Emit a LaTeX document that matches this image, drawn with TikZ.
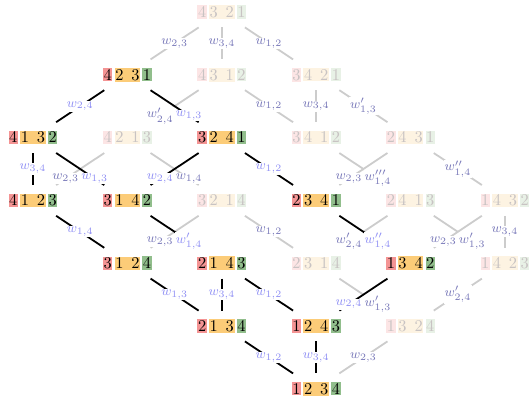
\documentclass[tikz,border=0pt]{standalone}

% cell colours of the permutation nodes
\definecolor{hlred}{RGB}{244,148,148}
\definecolor{hlorange}{RGB}{252,204,120}
\definecolor{hlgreen}{RGB}{145,190,140}
\definecolor{fdred}{RGB}{252,229,229}
\definecolor{fdorange}{RGB}{253,243,226}
\definecolor{fdgreen}{RGB}{232,241,230}
\definecolor{fdtext}{RGB}{200,195,195}
% connectors and their labels
\definecolor{edgegray}{RGB}{204,204,204}
\definecolor{hllabel}{RGB}{145,145,245}
\definecolor{fdlabel}{RGB}{120,120,185}

% one coloured cell
\newcommand\cell[2]{{\setlength\fboxsep{0.7pt}\colorbox{#1}{\kern-0.35pt#2\kern-0.35pt}}}
% a permutation a|b c|d with the three cell colours
\newcommand\permrow[7]{\cell{#1}{#4}\kern1.4pt\cell{#2}{#5\kern4.8pt#6}\kern1.4pt\cell{#3}{#7}}
\newcommand\hp[4]{\permrow{hlred}{hlorange}{hlgreen}{#1}{#2}{#3}{#4}}
\newcommand\fp[4]{\permrow{fdred}{fdorange}{fdgreen}{#1}{#2}{#3}{#4}}

\begin{document}
\begin{tikzpicture}[x=0.61pt,y=-0.61pt,
  permnode/.style={inner sep=0pt,outer sep=5.2pt},
  hlnode/.style={permnode,text=black},
  fdnode/.style={permnode,text=fdtext},
  gedge/.style={draw=edgegray,line width=1.1pt},
  bedge/.style={draw=black,line width=1.1pt},
  elabel/.style={font=\footnotesize,fill=white,inner sep=0.6pt},
  hlbl/.style={elabel,text=hllabel},
  flbl/.style={elabel,text=fdlabel},
  cross/.style={pos=0.8}]
\useasboundingbox (0,0) rectangle (530,401);

% rows of the lattice
\node[fdnode] (p4321) at (221.8,12)    {\fp4321};

\node[hlnode] (p4231) at (127.4,74.8)  {\hp4231};
\node[fdnode] (p4312) at (221.8,74.8)  {\fp4312};
\node[fdnode] (p3421) at (316.2,74.8)  {\fp3421};

\node[hlnode] (p4132) at (33,137.6)    {\hp4132};
\node[fdnode] (p4213) at (127.4,137.6) {\fp4213};
\node[hlnode] (p3241) at (221.8,137.6) {\hp3241};
\node[fdnode] (p3412) at (316.2,137.6) {\fp3412};
\node[fdnode] (p2431) at (410.6,137.6) {\fp2431};

\node[hlnode] (p4123) at (33,200.4)    {\hp4123};
\node[hlnode] (p3142) at (127.4,200.4) {\hp3142};
\node[fdnode] (p3214) at (221.8,200.4) {\fp3214};
\node[hlnode] (p2341) at (316.2,200.4) {\hp2341};
\node[fdnode] (p2413) at (410.6,200.4) {\fp2413};
\node[fdnode] (p1432) at (505,200.4)   {\fp1432};

\node[hlnode] (p3124) at (127.4,263.2) {\hp3124};
\node[hlnode] (p2143) at (221.8,263.2) {\hp2143};
\node[fdnode] (p2314) at (316.2,263.2) {\fp2314};
\node[hlnode] (p1342) at (410.6,263.2) {\hp1342};
\node[fdnode] (p1423) at (505,263.2)   {\fp1423};

\node[hlnode] (p2134) at (221.8,326)   {\hp2134};
\node[hlnode] (p1243) at (316.2,326)   {\hp1243};
\node[fdnode] (p1324) at (410.6,326)   {\fp1324};

\node[hlnode] (p1234) at (316.2,388.8) {\hp1234};

% faded transpositions
\draw[gedge] (p4321) -- node[flbl]{$w_{2,3}$} (p4231);
\draw[gedge] (p4321) -- node[flbl]{$w_{3,4}$} (p4312);
\draw[gedge] (p4321) -- node[flbl]{$w_{1,2}$} (p3421);
\draw[gedge] (p4312) -- node[flbl,cross]{$w'_{2,4}$} (p4213);
\draw[gedge] (p4312) -- node[flbl]{$w_{1,2}$} (p3412);
\draw[gedge] (p3421) -- node[flbl]{$w_{3,4}$} (p3412);
\draw[gedge] (p3421) -- node[flbl]{$w'_{1,3}$} (p2431);
\draw[gedge] (p4213) -- node[flbl,cross]{$w_{2,3}$} (p4123);
\draw[gedge] (p4213) -- node[flbl,cross]{$w_{1,4}$} (p3214);
\draw[gedge] (p3412) -- node[flbl,cross]{$w'''_{1,4}$} (p2413);
\draw[gedge] (p2431) -- node[flbl,cross]{$w_{2,3}$} (p2341);
\draw[gedge] (p2431) -- node[flbl]{$w''_{1,4}$} (p1432);
\draw[gedge] (p3214) -- node[flbl,cross]{$w_{2,3}$} (p3124);
\draw[gedge] (p3214) -- node[flbl]{$w_{1,2}$} (p2314);
\draw[gedge] (p2413) -- node[flbl,cross]{$w'_{2,4}$} (p2314);
\draw[gedge] (p2413) -- node[flbl,cross]{$w'_{1,3}$} (p1423);
\draw[gedge] (p1432) -- node[flbl,cross]{$w_{2,3}$} (p1342);
\draw[gedge] (p1432) -- node[flbl]{$w_{3,4}$} (p1423);
\draw[gedge] (p2314) -- node[flbl,cross]{$w'_{1,3}$} (p1324);
\draw[gedge] (p1423) -- node[flbl]{$w'_{2,4}$} (p1324);
\draw[gedge] (p1324) -- node[flbl]{$w_{2,3}$} (p1234);

% highlighted transpositions
\draw[bedge] (p4231) -- node[hlbl]{$w_{2,4}$} (p4132);
\draw[bedge] (p4231) -- node[hlbl,cross]{$w_{1,3}$} (p3241);
\draw[bedge] (p4132) -- node[hlbl]{$w_{3,4}$} (p4123);
\draw[bedge] (p4132) -- node[hlbl,cross]{$w_{1,3}$} (p3142);
\draw[bedge] (p3241) -- node[hlbl,cross]{$w_{2,4}$} (p3142);
\draw[bedge] (p3241) -- node[hlbl]{$w_{1,2}$} (p2341);
\draw[bedge] (p4123) -- node[hlbl]{$w_{1,4}$} (p3124);
\draw[bedge] (p3142) -- node[hlbl,cross]{$w'_{1,4}$} (p2143);
\draw[bedge] (p2341) -- node[hlbl,cross]{$w''_{1,4}$} (p1342);
\draw[bedge] (p3124) -- node[hlbl]{$w_{1,3}$} (p2134);
\draw[bedge] (p2143) -- node[hlbl]{$w_{3,4}$} (p2134);
\draw[bedge] (p2143) -- node[hlbl]{$w_{1,2}$} (p1243);
\draw[bedge] (p1342) -- node[hlbl,cross]{$w_{2,4}$} (p1243);
\draw[bedge] (p2134) -- node[hlbl]{$w_{1,2}$} (p1234);
\draw[bedge] (p1243) -- node[hlbl]{$w_{3,4}$} (p1234);
\end{tikzpicture}
\end{document}
